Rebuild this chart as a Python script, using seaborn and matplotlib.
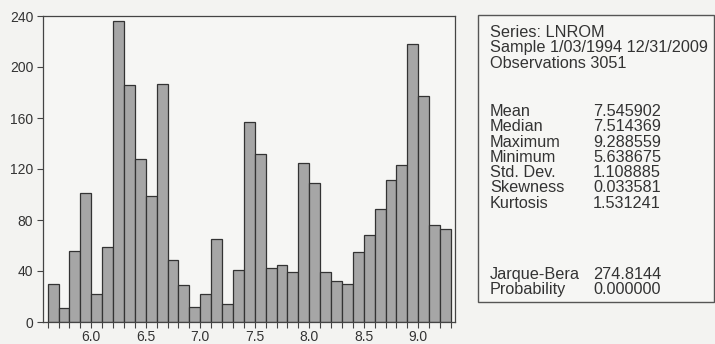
import numpy as np
import pandas as pd
import matplotlib
matplotlib.use("Agg")
import matplotlib.pyplot as plt
import seaborn as sns
from matplotlib.patches import Rectangle
from matplotlib.ticker import MultipleLocator

# ---- data ----
bin_start = 5.6
bin_width = 0.1
counts = [30, 11, 56, 101, 22, 59, 236, 186, 128, 99, 187, 49, 29, 12, 22, 65, 14,
          41, 157, 132, 42, 45, 39, 125, 109, 39, 32, 30, 55, 68, 89, 111, 123, 218,
          177, 76, 73]
x_ticks = [6.0, 6.5, 7.0, 7.5, 8.0, 8.5, 9.0]
y_ticks = [0, 40, 80, 120, 160, 200, 240]
stat_labels = ["Mean", "Median", "Maximum", "Minimum", "Std. Dev.", "Skewness",
               "Kurtosis", "", "Jarque-Bera", "Probability"]
stat_values = ["7.545902", "7.514369", "9.288559", "5.638675", "1.108885",
               "0.033581", "1.531241", "", "274.8144", "0.000000"]
header_lines = ["Series: LNROM", "Sample 1/03/1994 12/31/2009", "Observations 3051"]

n = len(counts)
centers = [round(bin_start + bin_width * (i + 0.5), 3) for i in range(n)]
edges = [round(bin_start + bin_width * i, 3) for i in range(n + 1)]
df = pd.DataFrame({"value": centers, "count": counts})

sns.set_style("ticks")
plt.rcParams["font.family"] = ["Liberation Sans", "DejaVu Sans"]

fig = plt.figure(figsize=(7.15, 3.44), dpi=100, facecolor="#f3f3f1")
ax = fig.add_axes([43 / 715, 1 - 322 / 344, (455 - 43) / 715, (322 - 16) / 344])
ax.set_facecolor("#f6f6f4")

sns.histplot(data=df, x="value", weights="count", bins=edges, ax=ax,
             color="#a6a6a6", edgecolor="#333333", linewidth=0.9, alpha=1.0)

ax.set_xlim(5.557, 9.337)
ax.set_ylim(0, 240)
ax.set_xticks(x_ticks)
ax.set_xticklabels([f"{t:.1f}" for t in x_ticks])
ax.xaxis.set_minor_locator(MultipleLocator(0.1))
ax.set_yticks(y_ticks)
ax.set_xlabel("")
ax.set_ylabel("")
for s in ax.spines.values():
    s.set_visible(True)
    s.set_color("#444444")
    s.set_linewidth(0.9)
ax.tick_params(axis="both", which="major", length=4, width=0.8, color="#444444",
               labelsize=10, labelcolor="#333333", direction="out")
ax.tick_params(axis="x", which="minor", length=4, width=0.8, color="#444444",
               direction="out")
ax.tick_params(axis="x", pad=1.5)
ax.tick_params(axis="y", pad=3)

# ---- statistics box ----
fig.patches.append(Rectangle((478 / 715, 1 - 302 / 344), (714 - 478) / 715,
                             (302 - 15) / 344, transform=fig.transFigure,
                             facecolor="#f6f6f4", edgecolor="#555555",
                             linewidth=1.0, zorder=0))

fs = 11.7
col1 = 490 / 715
col2 = 593 / 715
header_base = [37, 52, 68]
for txt, yb in zip(header_lines, header_base):
    fig.text(col1, 1 - yb / 344, txt, fontsize=fs, color="#333333",
             ha="left", va="baseline")

stat_base = [116, 131, 147, 162, 177, 192, 208, 0, 279, 294]
for lab, val, yb in zip(stat_labels, stat_values, stat_base):
    if not lab:
        continue
    fig.text(col1, 1 - yb / 344, lab, fontsize=fs, color="#333333",
             ha="left", va="baseline")
    fig.text(col2, 1 - yb / 344, val, fontsize=fs, color="#333333",
             ha="left", va="baseline")

fig.savefig("out.png", dpi=100, facecolor=fig.get_facecolor())
